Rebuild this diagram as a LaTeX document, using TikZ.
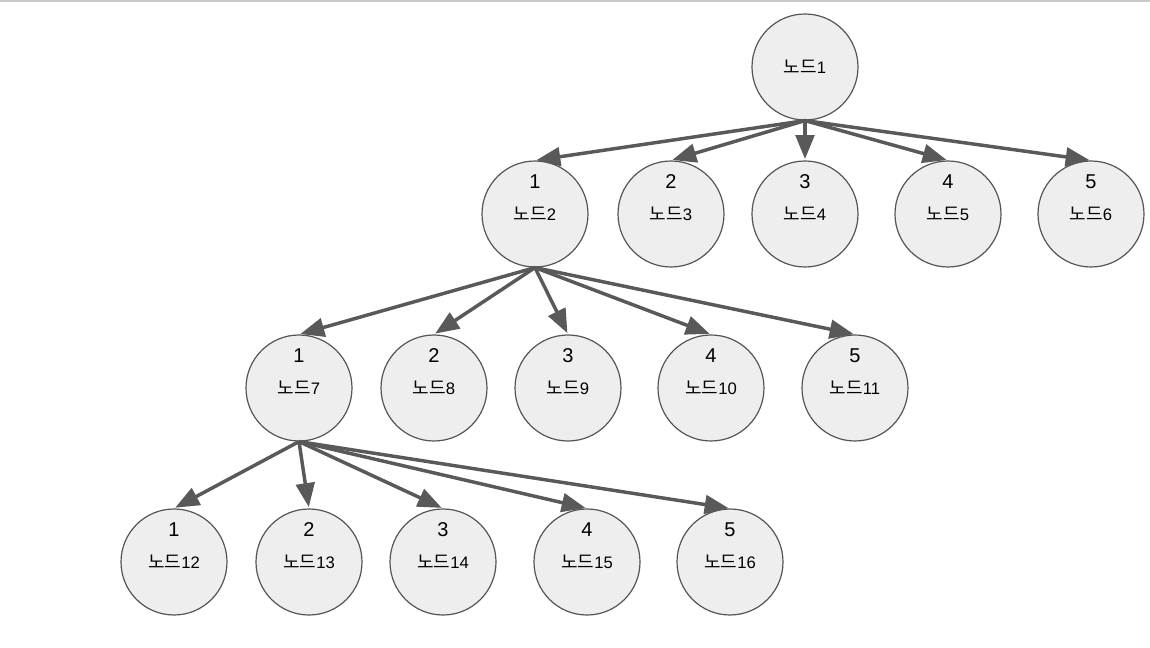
\documentclass[tikz,border=0pt]{standalone}
\usepackage{fontspec}
\setmainfont{Liberation Sans}
\newfontfamily\kr{Noto Sans CJK KR}
\usetikzlibrary{arrows.meta}
\definecolor{nodefill}{HTML}{EEEEEE}
\definecolor{nodeline}{HTML}{555555}
\definecolor{edgecol}{HTML}{595959}
\definecolor{topline}{HTML}{C8C8C8}
\newcommand{\krw}{{\kr\fontsize{13.5}{14}\selectfont 노드}}
\tikzset{
  tnode/.style={circle, draw=nodeline, fill=nodefill, line width=0.9pt, minimum size=106*0.75pt, inner sep=0pt},
  edge/.style={draw=edgecol, line width=2.6pt, -{Triangle[length=18pt,width=14pt]}, shorten >=1pt},
  num/.style={font=\fontsize{15}{16}\selectfont},
  lab/.style={font=\fontsize{12.5}{14}\selectfont}
}
\begin{document}
\begin{tikzpicture}[x=0.75pt,y=-0.75pt]
\useasboundingbox (0,0) rectangle (1150,648);
\fill[white] (0,0) rectangle (1150,648);
\draw[topline, line width=1.2pt] (0,0.8) -- (1150,0.8);
\node[tnode] (n1) at (805,67) {};
\node[lab] (l1) at (805,67) {\krw1};
% level 2
\foreach \x/\n/\d/\t in {535/n2/1/2,671/n3/2/3,805/n4/3/4,948/n5/4/5,1091/n6/5/6}{
  \node[tnode] (\n) at (\x,214) {};
  \node[num] (d\n) at (\x,182) {\d};
  \node[lab] (l\n) at (\x,214) {\krw\t};
}
\foreach \x/\n/\d/\t in {299/n7/1/7,434/n8/2/8,568/n9/3/9,711/n10/4/10,855/n11/5/11}{
  \node[tnode] (\n) at (\x,388) {};
  \node[num] (d\n) at (\x,356) {\d};
  \node[lab] (l\n) at (\x,388) {\krw\t};
}
\foreach \x/\n/\d/\t in {174/n12/1/12,309/n13/2/13,443/n14/3/14,587/n15/4/15,730/n16/5/16}{
  \node[tnode] (\n) at (\x,562) {};
  \node[num] (d\n) at (\x,530) {\d};
  \node[lab] (l\n) at (\x,562) {\krw\t};
}
\foreach \c in {n2,n3,n4,n5,n6}{ \draw[edge] (n1.south) -- (\c.north); }
\foreach \c in {n7,n8,n9,n10,n11}{ \draw[edge] (n2.south) -- (\c.north); }
\foreach \c in {n12,n13,n14,n15,n16}{ \draw[edge] (n7.south) -- (\c.north); }
\end{tikzpicture}
\end{document}
